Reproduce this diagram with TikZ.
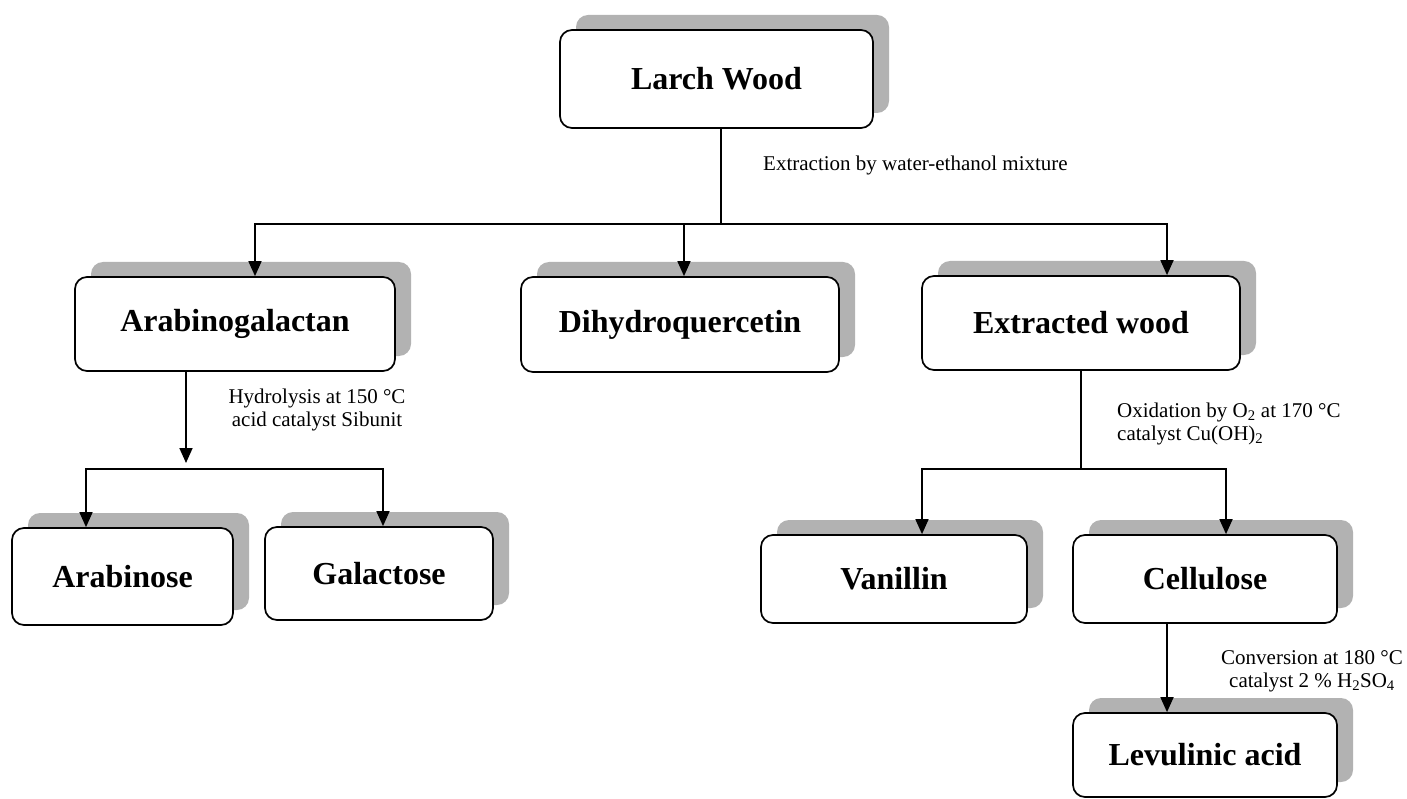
\documentclass[tikz,border=0pt]{standalone}
\usepackage{fontspec}
\setmainfont{Liberation Serif}
\usetikzlibrary{arrows.meta,shadows}
\begin{document}
\begin{tikzpicture}[x=1pt,y=-1pt,
 box/.style={draw, line width=1.7pt, rounded corners=12pt, fill=white, inner sep=0pt,
   font=\fontsize{32}{35}\selectfont\bfseries,
   drop shadow={shadow xshift=16pt, shadow yshift=15pt, fill=black!30, opacity=1}},
 conn/.style={line width=1.7pt, line cap=rect},
 arr/.style={line width=1.7pt, -{Triangle[length=15pt,width=13pt]}},
 lbl/.style={font=\fontsize{21}{23}\selectfont, inner sep=0pt, align=center}]
\useasboundingbox (0,0) rectangle (1407,799);
% boxes
\node[box, minimum width=313pt, minimum height=98pt] (larch) at (716.5,79) {Larch Wood};
\node[box, minimum width=320pt, minimum height=94pt] (arabgal) at (235,324) {Arabinogalactan};
\node[box, minimum width=318pt, minimum height=95pt] (dihydro) at (680,324.5) {Dihydroquercetin};
\node[box, minimum width=318pt, minimum height=94pt] (extwood) at (1081,323) {Extracted wood};
\node[box, minimum width=221pt, minimum height=97pt] (arabinose) at (122.5,576.5) {Arabinose};
\node[box, minimum width=228pt, minimum height=93pt] (galactose) at (379,573.5) {Galactose};
\node[box, minimum width=266pt, minimum height=88pt] (vanillin) at (894,579) {Vanillin};
\node[box, minimum width=264pt, minimum height=88pt] (cellulose) at (1205,579) {Cellulose};
\node[box, minimum width=264pt, minimum height=84pt] (levulinic) at (1205,755) {Levulinic acid};
% labels
\node[lbl, anchor=west] (l1) at (763,165) {Extraction by water-ethanol mixture};
\node[lbl] (l2) at (317,410) {Hydrolysis at 150 °C\\acid catalyst Sibunit};
\node[lbl, anchor=west, align=left] (l3) at (1117,424) {Oxidation by O\textsubscript{2} at 170 °C\\catalyst Cu(OH)\textsubscript{2}};
\node[lbl] (l4) at (1312,671) {Conversion at 180 °C\\catalyst 2 \% H\textsubscript{2}SO\textsubscript{4}};
% level 1 connectors
\coordinate (j0) at (721,224);
\coordinate (jL) at (255,224);
\coordinate (jM) at (684,224);
\coordinate (jR) at (1167,224);
\draw[conn] (larch.south -| j0) -- (j0);
\draw[conn] (jL) -- (jR);
\draw[arr] (jL) -- (jL |- arabgal.north);
\draw[arr] (jM) -- (jM |- dihydro.north);
\draw[arr] (jR) -- (jR |- extwood.north);
% arabinogalactan branch
\coordinate (h1) at (186,463);
\coordinate (jA) at (86,469);
\coordinate (jG) at (383,469);
\draw[arr] (arabgal.south -| h1) -- (h1);
\draw[conn] (jA) -- (jG);
\draw[arr] (jA) -- (jA |- arabinose.north);
\draw[arr] (jG) -- (jG |- galactose.north);
% extracted wood branch
\coordinate (j2) at (1081,469);
\coordinate (jV) at (922,469);
\coordinate (jC) at (1226,469);
\draw[conn] (extwood.south -| j2) -- (j2);
\draw[conn] (jV) -- (jC);
\draw[arr] (jV) -- (jV |- vanillin.north);
\draw[arr] (jC) -- (jC |- cellulose.north);
% cellulose to levulinic
\coordinate (k) at (1167,660);
\draw[arr] (cellulose.south -| k) -- (levulinic.north -| k);
\end{tikzpicture}
\end{document}
